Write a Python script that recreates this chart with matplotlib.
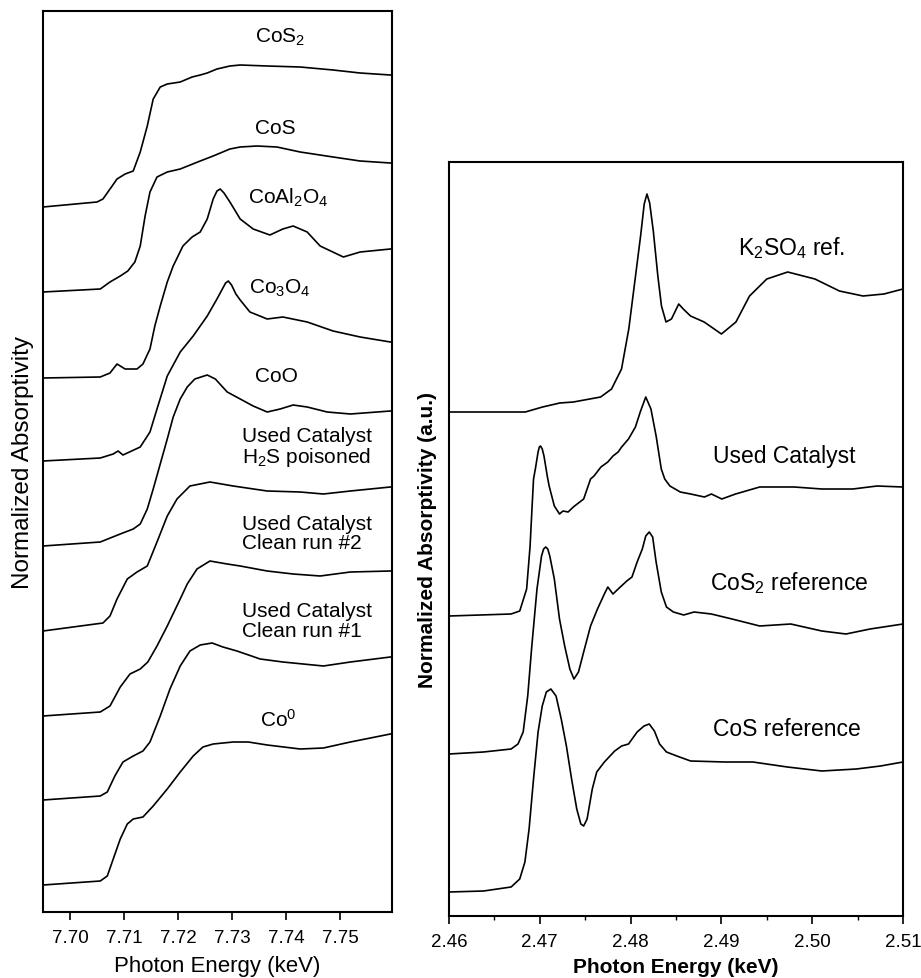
import numpy as np
import matplotlib
matplotlib.use("Agg")
import matplotlib.pyplot as plt
from matplotlib.ticker import MultipleLocator, FormatStrFormatter

plt.rcParams["font.family"] = ["Liberation Sans", "DejaVu Sans"]
plt.rcParams["mathtext.fontset"] = "custom"
plt.rcParams["mathtext.rm"] = "Liberation Sans"
plt.rcParams["mathtext.it"] = "Liberation Sans:italic"
plt.rcParams["mathtext.bf"] = "Liberation Sans:bold"

# ---- Co K-edge spectra (left panel), stacked, keV / a.u. ----
co_cos2_e = [7.6950, 7.7050, 7.7061, 7.7078, 7.7087, 7.7102, 7.7117, 7.7130, 7.7143, 7.7154, 7.7167, 7.7180,
             7.7204, 7.7226, 7.7241, 7.7254, 7.7272, 7.7296, 7.7315, 7.7365, 7.7426, 7.7487, 7.7537, 7.7593]
co_cos2_y = [7.05, 7.10, 7.13, 7.26, 7.33, 7.38, 7.41, 7.60, 7.86, 8.13, 8.25, 8.28,
             8.30, 8.35, 8.37, 8.39, 8.43, 8.46, 8.47, 8.46, 8.45, 8.42, 8.39, 8.37]

co_cos_e = [7.6950, 7.7056, 7.7074, 7.7093, 7.7107, 7.7120, 7.7130, 7.7139, 7.7148, 7.7161, 7.7180,
            7.7204, 7.7241, 7.7265, 7.7296, 7.7315, 7.7346, 7.7383, 7.7426, 7.7487, 7.7537, 7.7593]
co_cos_y = [6.20, 6.23, 6.30, 6.36, 6.41, 6.50, 6.66, 6.96, 7.20, 7.35, 7.40,
            7.43, 7.51, 7.56, 7.63, 7.65, 7.66, 7.65, 7.60, 7.55, 7.51, 7.49]

coal2o4_e = [7.6950, 7.7056, 7.7074, 7.7087, 7.7102, 7.7124, 7.7135, 7.7148, 7.7157, 7.7167, 7.7180,
             7.7191, 7.7209, 7.7226, 7.7241, 7.7254, 7.7265, 7.7272, 7.7278, 7.7285, 7.7296, 7.7315,
             7.7339, 7.7370, 7.7394, 7.7413, 7.7439, 7.7463, 7.7506, 7.7537, 7.7593]
coal2o4_y = [5.34, 5.35, 5.39, 5.48, 5.43, 5.43, 5.48, 5.63, 5.86, 6.06, 6.30,
             6.46, 6.66, 6.75, 6.80, 6.93, 7.13, 7.21, 7.23, 7.19, 7.10, 6.93,
             6.83, 6.77, 6.83, 6.86, 6.80, 6.66, 6.55, 6.60, 6.63]

co3o4_e = [7.6950, 7.7056, 7.7080, 7.7089, 7.7098, 7.7130, 7.7148, 7.7161, 7.7180, 7.7204, 7.7228, 7.7254,
           7.7272, 7.7281, 7.7288, 7.7293, 7.7299, 7.7307, 7.7315, 7.7333, 7.7365, 7.7394, 7.7439, 7.7487,
           7.7537, 7.7593]
co3o4_y = [4.51, 4.54, 4.58, 4.61, 4.57, 4.65, 4.80, 5.03, 5.36, 5.60, 5.76, 5.96,
           6.13, 6.22, 6.29, 6.31, 6.27, 6.18, 6.12, 6.00, 5.93, 5.95, 5.90, 5.81,
           5.75, 5.70]

coo_e = [7.6950, 7.7056, 7.7093, 7.7117, 7.7130, 7.7143, 7.7154, 7.7167, 7.7180, 7.7191, 7.7204, 7.7217,
         7.7231, 7.7254, 7.7269, 7.7291, 7.7315, 7.7339, 7.7365, 7.7389, 7.7413, 7.7439, 7.7476, 7.7519, 7.7593]
coo_y = [3.66, 3.70, 3.78, 3.83, 3.88, 4.03, 4.23, 4.48, 4.73, 4.95, 5.13, 5.25,
         5.33, 5.37, 5.33, 5.20, 5.13, 5.06, 5.00, 5.03, 5.07, 5.05, 5.00, 4.98, 5.01]

h2s_e = [7.6950, 7.7061, 7.7074, 7.7087, 7.7106, 7.7124, 7.7143, 7.7161, 7.7180, 7.7198, 7.7222,
         7.7259, 7.7302, 7.7365, 7.7426, 7.7469, 7.7519, 7.7593]
h2s_y = [2.81, 2.89, 2.96, 3.13, 3.33, 3.40, 3.46, 3.70, 3.96, 4.13, 4.26,
         4.30, 4.26, 4.21, 4.20, 4.18, 4.21, 4.25]

clean2_e = [7.6950, 7.7056, 7.7074, 7.7093, 7.7111, 7.7130, 7.7144, 7.7161, 7.7180, 7.7204, 7.7217,
            7.7235, 7.7259, 7.7291, 7.7315, 7.7365, 7.7413, 7.7463, 7.7519, 7.7593]
clean2_y = [1.96, 2.00, 2.06, 2.25, 2.38, 2.43, 2.50, 2.66, 2.86, 3.13, 3.28,
            3.43, 3.51, 3.48, 3.46, 3.41, 3.38, 3.36, 3.40, 3.41]

clean1_e = [7.6950, 7.7056, 7.7069, 7.7083, 7.7098, 7.7117, 7.7135, 7.7148, 7.7167, 7.7185, 7.7204,
            7.7222, 7.7241, 7.7263, 7.7283, 7.7309, 7.7352, 7.7394, 7.7469, 7.7519, 7.7593]
clean1_y = [1.12, 1.16, 1.20, 1.36, 1.50, 1.56, 1.61, 1.70, 1.96, 2.23, 2.46,
            2.61, 2.67, 2.69, 2.65, 2.61, 2.53, 2.50, 2.46, 2.50, 2.55]

co0_e = [7.6950, 7.7056, 7.7069, 7.7080, 7.7093, 7.7106, 7.7117, 7.7135, 7.7154, 7.7180, 7.7204,
         7.7228, 7.7246, 7.7265, 7.7302, 7.7330, 7.7365, 7.7426, 7.7469, 7.7519, 7.7593]
co0_y = [0.27, 0.31, 0.36, 0.53, 0.73, 0.88, 0.93, 0.95, 1.06, 1.23, 1.40,
         1.56, 1.65, 1.68, 1.70, 1.70, 1.67, 1.63, 1.64, 1.70, 1.78]

co_spectra = [(co_cos2_e, co_cos2_y), (co_cos_e, co_cos_y), (coal2o4_e, coal2o4_y), (co3o4_e, co3o4_y),
              (coo_e, coo_y), (h2s_e, h2s_y), (clean2_e, clean2_y), (clean1_e, clean1_y), (co0_e, co0_y)]

co_labels = ["CoS$_2$", "CoS", "CoAl$_2$O$_4$", "Co$_3$O$_4$", "CoO", "Co$^0$"]
co_label_x = [7.7389, 7.7380, 7.7404, 7.7389, 7.7383, 7.7385]
co_label_y = [8.76, 7.85, 7.15, 6.25, 5.36, 1.93]
used_labels = ["Used Catalyst\nH$_2$S poisoned", "Used Catalyst\nClean run #2", "Used Catalyst\nClean run #1"]
used_label_y = [4.65, 3.79, 2.915]
used_label_x = 7.7319

# ---- S K-edge spectra (right panel) ----
k2so4_e = [2.4600, 2.4684, 2.4703, 2.4722, 2.4737, 2.4767, 2.4779, 2.4790, 2.4798, 2.4805, 2.4811, 2.4815,
           2.4818, 2.4821, 2.4825, 2.4830, 2.4834, 2.4839, 2.4845, 2.4853, 2.4858, 2.4866, 2.4881, 2.4900,
           2.4916, 2.4931, 2.4950, 2.4973, 2.5003, 2.5030, 2.5056, 2.5079, 2.5100]
k2so4_y = [5.04, 5.04, 5.09, 5.13, 5.14, 5.19, 5.27, 5.47, 5.87, 6.37, 6.80, 7.12,
           7.22, 7.13, 6.85, 6.40, 6.10, 5.94, 5.97, 6.12, 6.07, 6.00, 5.94, 5.82,
           5.94, 6.20, 6.37, 6.44, 6.37, 6.25, 6.20, 6.22, 6.27]

used_e = [2.46000, 2.46684, 2.46779, 2.46855, 2.46893, 2.46912, 2.46931, 2.46951, 2.46981, 2.46995, 2.47008,
          2.47027, 2.47046, 2.47084, 2.47103, 2.47160, 2.47217, 2.47255, 2.47312, 2.47369, 2.47483, 2.47559,
          2.47597, 2.47673, 2.47749, 2.47806, 2.47863, 2.47901, 2.47977, 2.48053, 2.48110, 2.48167, 2.48224,
          2.48281, 2.48338, 2.48376, 2.48433, 2.48547, 2.48661, 2.48813, 2.48890, 2.49004, 2.49156, 2.49422,
          2.49802, 2.50106, 2.50448, 2.50714, 2.51000]
used_y = [3.00, 3.02, 3.05, 3.27, 3.70, 4.04, 4.37, 4.47, 4.64, 4.69, 4.70,
          4.67, 4.60, 4.39, 4.30, 4.10, 4.02, 4.05, 4.04, 4.09, 4.17, 4.37,
          4.40, 4.49, 4.54, 4.60, 4.64, 4.69, 4.77, 4.89, 5.05, 5.19, 5.07,
          4.80, 4.47, 4.37, 4.30, 4.24, 4.22, 4.19, 4.22, 4.17, 4.22, 4.29,
          4.29, 4.27, 4.27, 4.30, 4.29]

cos2_ref_e = [2.46000, 2.46380, 2.46684, 2.46760, 2.46817, 2.46867, 2.46912, 2.46969, 2.47019, 2.47042,
              2.47065, 2.47088, 2.47110, 2.47160, 2.47217, 2.47274, 2.47331, 2.47376, 2.47426, 2.47483,
              2.47559, 2.47635, 2.47711, 2.47749, 2.47806, 2.47863, 2.47958, 2.48015, 2.48072, 2.48129,
              2.48167, 2.48205, 2.48243, 2.48281, 2.48338, 2.48395, 2.48471, 2.48585, 2.48699, 2.48889,
              2.49117, 2.49422, 2.49764, 2.50106, 2.50372, 2.50638, 2.51000]
cos2_ref_y = [1.62, 1.64, 1.67, 1.72, 1.84, 2.20, 2.70, 3.27, 3.60, 3.67,
              3.69, 3.67, 3.60, 3.37, 2.97, 2.70, 2.47, 2.37, 2.44, 2.64,
              2.90, 3.07, 3.22, 3.29, 3.22, 3.27, 3.35, 3.39, 3.54, 3.67,
              3.80, 3.84, 3.79, 3.54, 3.24, 3.09, 3.04, 3.01, 3.04, 3.02,
              2.97, 2.90, 2.92, 2.85, 2.82, 2.87, 2.92]

cos_ref_e = [2.46000, 2.46380, 2.46684, 2.46779, 2.46836, 2.46882, 2.46931, 2.46981, 2.47027, 2.47072,
             2.47122, 2.47179, 2.47236, 2.47293, 2.47350, 2.47407, 2.47452, 2.47483, 2.47521, 2.47578,
             2.47627, 2.47711, 2.47825, 2.47901, 2.47977, 2.48072, 2.48148, 2.48205, 2.48262, 2.48319,
             2.48395, 2.48509, 2.48661, 2.49041, 2.49346, 2.49726, 2.50106, 2.50486, 2.50752, 2.51000]
cos_ref_y = [0.24, 0.25, 0.29, 0.37, 0.54, 0.87, 1.37, 1.84, 2.10, 2.24,
             2.27, 2.20, 1.97, 1.70, 1.37, 1.07, 0.92, 0.90, 0.97, 1.27,
             1.44, 1.54, 1.65, 1.70, 1.72, 1.84, 1.90, 1.92, 1.85, 1.72,
             1.64, 1.60, 1.55, 1.54, 1.54, 1.49, 1.45, 1.47, 1.50, 1.54]

s_spectra = [(k2so4_e, k2so4_y), (used_e, used_y), (cos2_ref_e, cos2_ref_y), (cos_ref_e, cos_ref_y)]
s_labels = ["K$_2$SO$_4$ ref.", "Used Catalyst", "CoS$_2$ reference", "CoS reference"]
s_label_x = [2.49778, 2.49689, 2.49744, 2.49722]
s_label_y = [6.69, 4.60, 3.34, 1.87]

W, H = 921, 979
fig = plt.figure(figsize=(W / 100, H / 100), dpi=100)


def frac(x0, y0, x1, y1):
    return [x0 / W, 1 - y1 / H, (x1 - x0) / W, (y1 - y0) / H]


# left panel
ax1 = fig.add_axes(frac(43, 12, 392, 913))
for e, y in co_spectra:
    ax1.plot(e, y, color="black", lw=1.2, solid_joinstyle="round")
ax1.set_xlim(7.695, 7.7596)
ax1.set_ylim(0, 9.01)
ax1.set_yticks([])
ax1.xaxis.set_major_locator(MultipleLocator(0.01))
ax1.xaxis.set_major_formatter(FormatStrFormatter("%.2f"))
ax1.tick_params(axis="x", direction="out", length=6, width=1.2, labelsize=13.5, pad=6)
for t, x, y in zip(co_labels, co_label_x, co_label_y):
    ax1.text(x, y, t, ha="center", va="center", fontsize=15)
for t, y in zip(used_labels, used_label_y):
    ax1.text(used_label_x, y, t, ha="left", va="center", fontsize=15, linespacing=1.05)

# right panel
ax2 = fig.add_axes(frac(449, 163, 903, 917))
for e, y in s_spectra:
    ax2.plot(e, y, color="black", lw=1.2, solid_joinstyle="round")
ax2.set_xlim(2.46, 2.51)
ax2.set_ylim(0, 7.54)
ax2.set_yticks([])
ax2.xaxis.set_major_locator(MultipleLocator(0.01))
ax2.xaxis.set_minor_locator(MultipleLocator(0.005))
ax2.xaxis.set_major_formatter(FormatStrFormatter("%.2f"))
ax2.tick_params(axis="x", which="major", direction="out", length=6, width=1.2, labelsize=13.5, pad=6)
ax2.tick_params(axis="x", which="minor", direction="out", length=3, width=1.0)
for t, x, y in zip(s_labels, s_label_x, s_label_y):
    ax2.text(x, y, t, ha="center", va="center", fontsize=16.5)

for ax in (ax1, ax2):
    for s in ax.spines.values():
        s.set_linewidth(1.5)

fig.text(23 / W, 1 - 463 / H, "Normalized Absorptivity", rotation=90, ha="center", va="center", fontsize=17.5)
fig.text(217 / W, 1 - 967 / H, "Photon Energy (keV)", ha="center", va="center", fontsize=16)
fig.text(427 / W, 1 - 540 / H, "Normalized Absorptivity (a.u.)", rotation=90, ha="center", va="center",
         fontsize=15, fontweight="bold")
fig.text(676 / W, 1 - 968 / H, "Photon Energy (keV)", ha="center", va="center", fontsize=15,
         fontweight="bold")

fig.savefig("out.png", dpi=100)
